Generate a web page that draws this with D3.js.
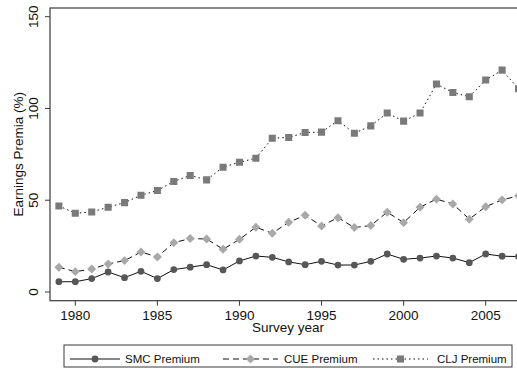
<!DOCTYPE html>
<html>
<head>
<meta charset="utf-8">
<script src="https://cdn.jsdelivr.net/npm/d3@7"></script>
<style>
  body { margin: 0; background: #fff; }
  svg { display: block; font-family: "Liberation Sans", Arial, sans-serif; }
</style>
</head>
<body>
<svg id="chart" width="517" height="368"></svg>
<script>
// survey years and the three premium series (%)
var years = d3.range(1979, 2008);
var smc = [5.6, 5.6, 7.3, 10.9, 7.8, 11.3, 7.3, 12.2, 13.5, 14.9, 12.0, 16.9, 19.6, 18.9, 16.4, 14.9, 16.7, 14.7, 14.7, 16.7, 20.7, 17.8, 18.5, 19.6, 18.5, 16.0, 20.7, 19.5, 19.3];
var cue = [13.5, 11.1, 12.5, 15.3, 17.1, 21.8, 19.1, 26.9, 29.1, 28.9, 23.3, 28.7, 35.3, 32.0, 38.0, 41.8, 36.0, 40.5, 35.1, 36.2, 43.5, 37.8, 46.2, 50.6, 48.0, 39.7, 46.5, 50.2, 52.4];
var clj = [46.9, 42.9, 43.6, 46.2, 48.7, 52.7, 55.3, 60.2, 63.5, 61.1, 68.0, 70.7, 72.9, 83.8, 84.2, 86.9, 87.1, 93.3, 86.5, 90.5, 97.5, 93.1, 97.5, 113.3, 108.7, 106.4, 115.5, 120.9, 110.7];
var xTicks = [1980, 1985, 1990, 1995, 2000, 2005];
var yTicks = [0, 50, 100, 150];
var seriesNames = ["SMC Premium", "CUE Premium", "CLJ Premium"];

var svg = d3.select("#chart");
var box = { left: 50, top: 8, right: 526, bottom: 300.7 };

var x = d3.scaleLinear().domain([1980, 2005]).range([75.3, 485.7]);
var y = d3.scaleLinear().domain([0, 150]).range([292, 16.7]);

// series styles (diamond = square turned 45 degrees, like Stata's marker)
var styles = [
  { values: smc, dash: null, type: d3.symbolCircle, rot: 0, fill: "#575757", size: 36 },
  { values: cue, dash: "6,4", type: d3.symbolSquare, rot: 45, fill: "#a8a8a8", size: 40 },
  { values: clj, dash: "1.5,3", type: d3.symbolSquare, rot: 0, fill: "#7a7a7a", size: 50 }
];

// clip for the plot region (image is cropped on the right)
svg.append("defs").append("clipPath").attr("id", "plotclip")
  .append("rect").attr("x", box.left).attr("y", box.top - 6)
  .attr("width", box.right - box.left + 10).attr("height", box.bottom - box.top + 12);

// plot box
svg.append("rect").attr("x", box.left).attr("y", box.top)
  .attr("width", box.right - box.left).attr("height", box.bottom - box.top)
  .attr("fill", "none").attr("stroke", "#3a3a3a").attr("stroke-width", 1.2);

// x axis ticks and labels
var xg = svg.append("g");
xg.selectAll("line").data(xTicks).join("line")
  .attr("x1", d => x(d)).attr("x2", d => x(d))
  .attr("y1", box.bottom).attr("y2", box.bottom + 5)
  .attr("stroke", "#3a3a3a").attr("stroke-width", 1);
xg.selectAll("text").data(xTicks).join("text")
  .attr("x", d => x(d)).attr("y", 319.5)
  .attr("text-anchor", "middle").attr("font-size", 13.5).attr("fill", "#111")
  .text(d => d);
svg.append("text").attr("x", (box.left + box.right) / 2).attr("y", 332)
  .attr("text-anchor", "middle").attr("font-size", 13.5).attr("fill", "#111")
  .text("Survey year");

// y axis ticks and labels
var yg = svg.append("g");
yg.selectAll("line").data(yTicks).join("line")
  .attr("x1", box.left - 5).attr("x2", box.left)
  .attr("y1", d => y(d)).attr("y2", d => y(d))
  .attr("stroke", "#3a3a3a").attr("stroke-width", 1);
yg.selectAll("text").data(yTicks).join("text")
  .attr("transform", d => "translate(37.5," + y(d) + ") rotate(-90)")
  .attr("text-anchor", "middle").attr("font-size", 13.5).attr("fill", "#111")
  .text(d => d);
svg.append("text")
  .attr("transform", "translate(22.5," + ((box.top + box.bottom) / 2) + ") rotate(-90)")
  .attr("text-anchor", "middle").attr("font-size", 13.5).attr("fill", "#111")
  .text("Earnings Premia (%)");

// lines and markers
var plot = svg.append("g").attr("clip-path", "url(#plotclip)");
var line = d3.line().x((d, i) => x(years[i])).y(d => y(d));
styles.forEach(function (s) {
  var g = plot.append("g");
  g.append("path").attr("d", line(s.values)).attr("fill", "none")
    .attr("stroke", "#111").attr("stroke-width", 1)
    .attr("stroke-dasharray", s.dash);
  var sym = d3.symbol().type(s.type).size(s.size);
  g.selectAll("path.mk").data(s.values).join("path").attr("class", "mk")
    .attr("transform", (d, i) => "translate(" + x(years[i]) + "," + y(d) + ") rotate(" + s.rot + ")")
    .attr("d", sym()).attr("fill", s.fill);
});

// legend
var lg = svg.append("g");
lg.append("rect").attr("x", 64).attr("y", 345).attr("width", 448).attr("height", 22)
  .attr("fill", "#fff").attr("stroke", "#3a3a3a").attr("stroke-width", 1);
var legendPos = [
  { x1: 70, x2: 120, tx: 125 },
  { x1: 223, x2: 278, tx: 284 },
  { x1: 373, x2: 428, tx: 437 }
];
styles.forEach(function (s, i) {
  var p = legendPos[i];
  var ly = 359;
  lg.append("line").attr("x1", p.x1).attr("x2", p.x2).attr("y1", ly).attr("y2", ly)
    .attr("stroke", "#111").attr("stroke-width", 1).attr("stroke-dasharray", s.dash);
  lg.append("path").attr("transform", "translate(" + ((p.x1 + p.x2) / 2) + "," + ly + ") rotate(" + s.rot + ")")
    .attr("d", d3.symbol().type(s.type).size(s.size)()).attr("fill", s.fill);
  lg.append("text").attr("x", p.tx).attr("y", ly + 4).attr("font-size", 11.5).attr("fill", "#111")
    .text(seriesNames[i]);
});
</script>
</body>
</html>
